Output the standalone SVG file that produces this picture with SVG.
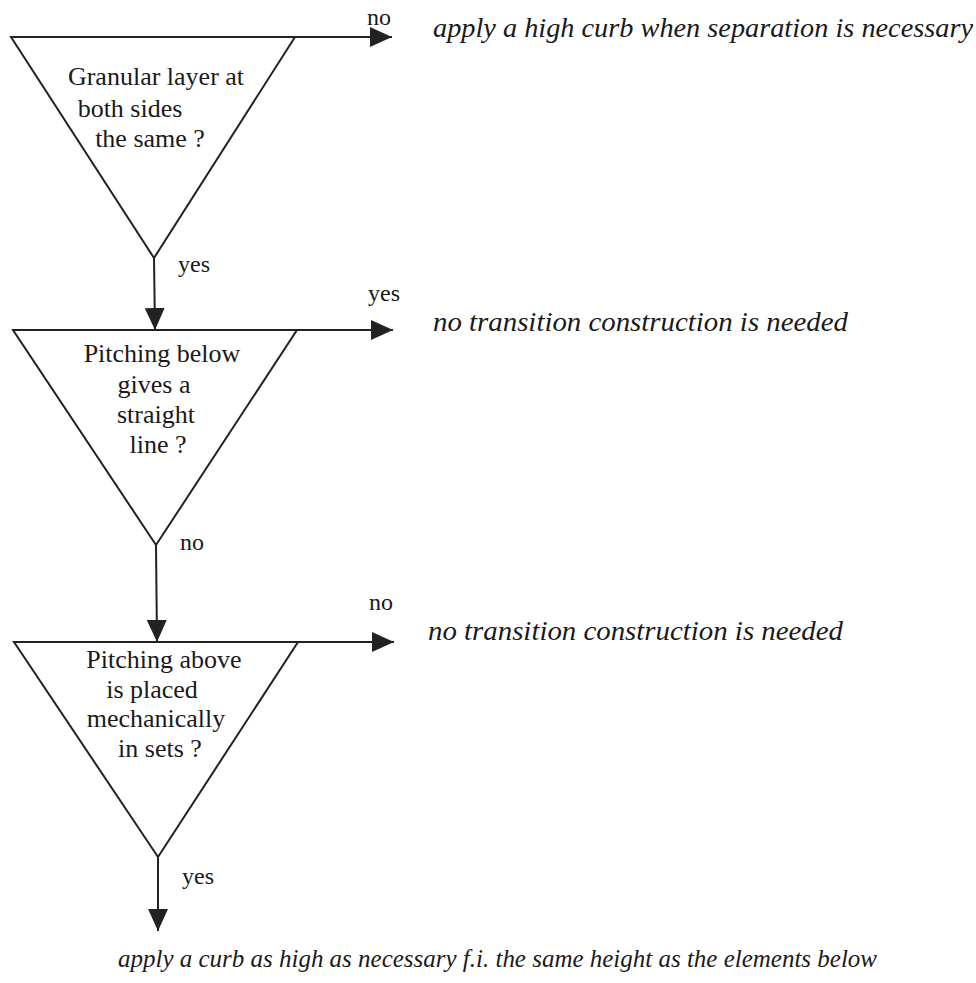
<svg xmlns="http://www.w3.org/2000/svg" width="976" height="983" viewBox="0 0 976 983">
<defs>
<style>
.tri{fill:#fff;stroke:#222;stroke-width:2}
.ln{fill:none;stroke:#222;stroke-width:2}
.q{font-family:"Liberation Serif","Times New Roman",serif;font-size:26px;fill:#1a1a1a;text-anchor:middle}
.lb{font-family:"Liberation Serif","Times New Roman",serif;font-size:24px;fill:#1a1a1a}
.it{font-family:"Liberation Serif","Times New Roman",serif;font-size:28px;font-style:italic;fill:#1a1a1a}
.itb{font-family:"Liberation Serif","Times New Roman",serif;font-size:26px;font-style:italic;fill:#1a1a1a}
</style>
<marker id="ah" viewBox="0 0 22 20" refX="22" refY="10" markerWidth="22" markerHeight="20" markerUnits="userSpaceOnUse" orient="auto">
<path d="M0,0 L22,10 L0,20 Z" fill="#222"/>
</marker>
</defs>
<rect width="976" height="983" fill="#fff"/>
<g id="connectors">
<line class="ln" x1="295" y1="37" x2="392" y2="37" marker-end="url(#ah)"/>
<line class="ln" x1="154" y1="258" x2="155" y2="330" marker-end="url(#ah)"/>
<line class="ln" x1="297" y1="330" x2="393" y2="330" marker-end="url(#ah)"/>
<line class="ln" x1="156" y1="545" x2="157" y2="642" marker-end="url(#ah)"/>
<line class="ln" x1="298" y1="642" x2="394" y2="642" marker-end="url(#ah)"/>
<line class="ln" x1="158" y1="857" x2="158" y2="931" marker-end="url(#ah)"/>
<text class="lb" x="367" y="25">no</text>
<text class="lb" x="178" y="272">yes</text>
<text class="lb" x="368" y="301">yes</text>
<text class="lb" x="180" y="550">no</text>
<text class="lb" x="369" y="610">no</text>
<text class="lb" x="182" y="884">yes</text>
</g>
<g id="d1">
<polygon class="tri" points="11,37 295,37 154,258"/>
<text class="q" x="156" y="85">Granular layer at</text>
<text class="q" x="130" y="117">both sides</text>
<text class="q" x="150" y="147">the same ?</text>
</g>
<g id="d2">
<polygon class="tri" points="13,330 297,330 156,545"/>
<text class="q" x="162" y="362">Pitching below</text>
<text class="q" x="154" y="393">gives a</text>
<text class="q" x="156" y="423">straight</text>
<text class="q" x="158" y="453">line ?</text>
</g>
<g id="d3">
<polygon class="tri" points="14,642 298,642 158,857"/>
<text class="q" x="164" y="668">Pitching above</text>
<text class="q" x="152" y="698">is placed</text>
<text class="q" x="156" y="727">mechanically</text>
<text class="q" x="160" y="757">in sets ?</text>
</g>
<g id="r1"><text class="it" x="433" y="37" textLength="540" lengthAdjust="spacingAndGlyphs">apply a high curb when separation is necessary</text></g>
<g id="r2"><text class="it" x="433" y="331" textLength="415" lengthAdjust="spacingAndGlyphs">no transition construction is needed</text></g>
<g id="r3"><text class="it" x="428" y="640" textLength="415" lengthAdjust="spacingAndGlyphs">no transition construction is needed</text></g>
<g id="bottom"><text class="itb" x="118" y="967" textLength="759" lengthAdjust="spacingAndGlyphs">apply a curb as high as necessary f.i. the same height as the elements below</text></g>
</svg>
